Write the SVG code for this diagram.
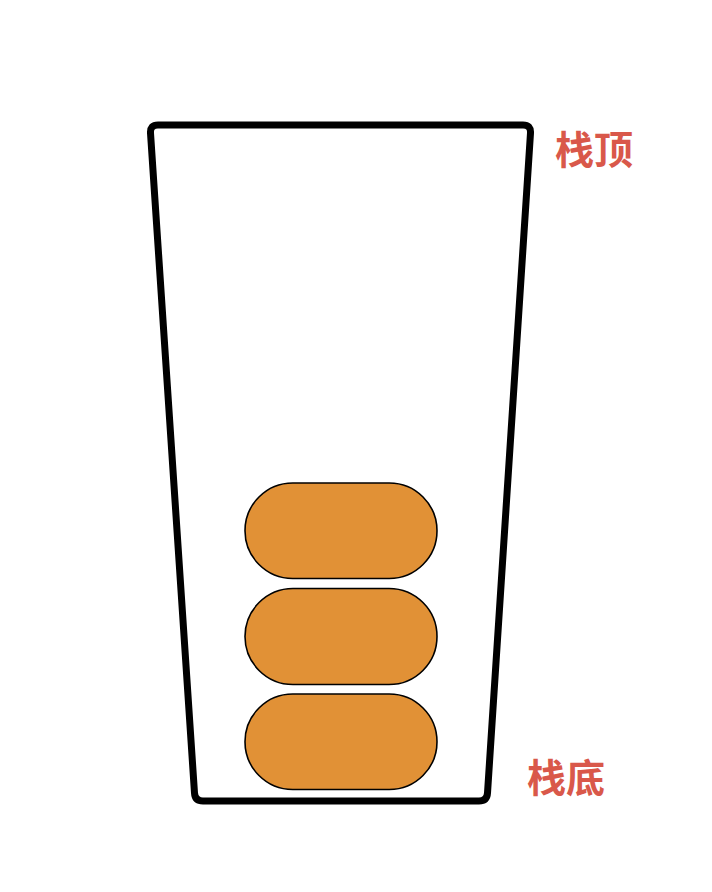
<svg xmlns="http://www.w3.org/2000/svg" width="712" height="892" viewBox="0 0 712 892">
<style>
.cup{fill:#fff;stroke:#000;stroke-width:7;stroke-linejoin:round}
.item{fill:#E19136;stroke:#000;stroke-width:1.6}
.lbl{font-family:"Noto Sans CJK SC","Noto Sans",sans-serif;font-weight:bold;font-size:39px;fill:#D9584A}
</style>
<rect width="712" height="892" fill="#fff"/>
<g id="stack">
<path class="cup" d="M158,125 L523,125 Q531,125 530.5,133 L487.5,793 Q487,801 479,801 L203,801 Q195,801 194.5,793 L150.5,133 Q150,125 158,125 Z"/>
</g>
<g id="item1"><rect class="item" x="245" y="483" width="192" height="95.5" rx="47.75"/></g>
<g id="item2"><rect class="item" x="245" y="588.5" width="192" height="96" rx="48"/></g>
<g id="item3"><rect class="item" x="245" y="694" width="192" height="95.5" rx="47.75"/></g>
<g id="top-label"><text class="lbl" x="555" y="164">栈顶</text></g>
<g id="bottom-label"><text class="lbl" x="527" y="792">栈底</text></g>
<g id="connectors"></g>
</svg>
